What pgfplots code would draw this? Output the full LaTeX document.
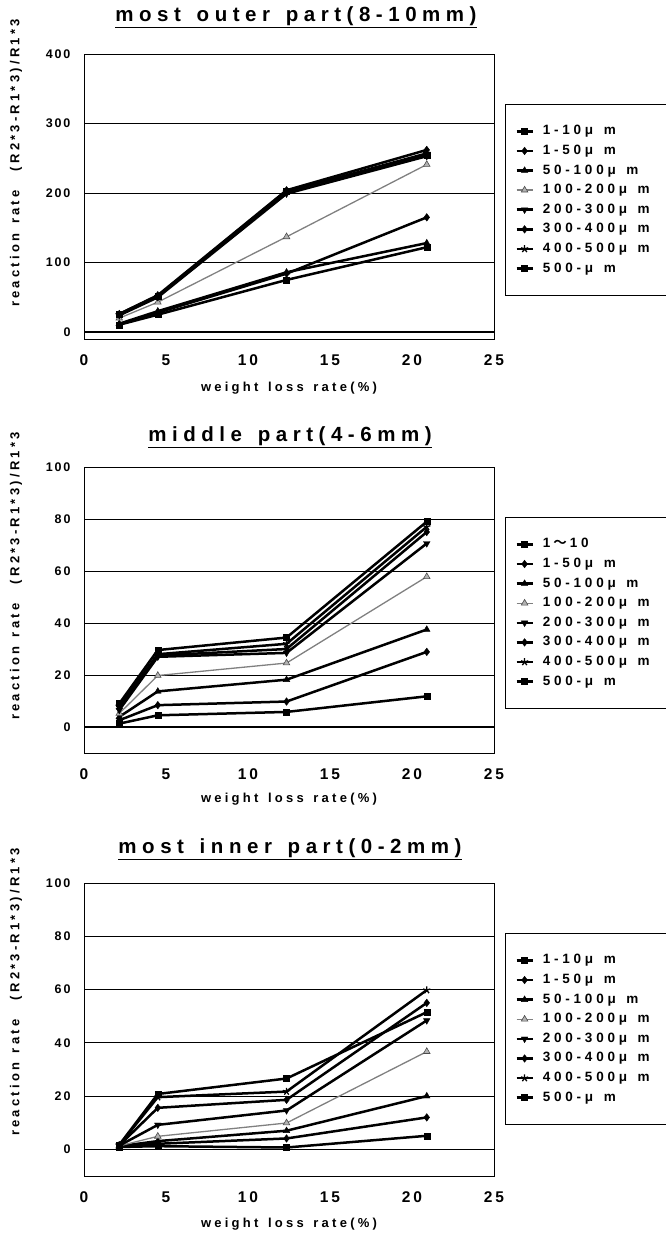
\documentclass[border=0pt]{standalone}
\usepackage{fontspec}
\setmainfont{Liberation Sans}
\newfontfamily\gf{Liberation Sans}[UprightFont=* Bold, WordSpace=1.4]
\newfontfamily\cjk{Noto Sans CJK JP}[UprightFont=* Bold]
\usepackage{pgfplots}
\pgfplotsset{compat=1.18}
\newcommand\FS[2]{\gf\fontsize{#1}{#1}\selectfont\addfontfeatures{LetterSpace=#2}}
\pgfplotsset{
  panel/.style={
    scale only axis, width=410pt, anchor=north west,
    xmin=0, xmax=25, xtick={0,5,10,15,20,25},
    ymin=-10,
    ymajorgrids, major grid style={black, line width=0.7pt},
    axis line style={black, line width=0.7pt},
    major tick length=0pt,
    /pgf/number format/assume math mode=true,
    xticklabel style={font=\FS{15.5}{18}, yshift=-12pt},
    yticklabel style={font=\FS{12.5}{15}, xshift=-10pt},
    clip=false,
    legend cell align=left,
    legend image code/.code={\draw[mark repeat=2,mark phase=2,##1] plot coordinates {(0pt,0pt) (8pt,0pt) (16pt,0pt)};},
    legend style={anchor=north west, draw=black, line width=0.7pt,
      inner xsep=10pt, inner ysep=21pt, row sep=7.6pt,
      font=\FS{13.5}{28},
      nodes={inner sep=0pt, text height=9.5pt, text depth=2.5pt},
      /tikz/every odd column/.style={column sep=9pt}},
  },
  s1/.style={black, line width=2.5pt, mark=square*, mark size=3pt, mark options={solid, line width=0.4pt}},
  s2/.style={black, line width=2.5pt, mark=diamond*, mark size=3.8pt, mark options={solid, line width=0.4pt}},
  s3/.style={black, line width=2.5pt, mark=triangle*, mark size=3.8pt, mark options={solid, line width=0.4pt}},
  s4/.style={gray, line width=1.3pt, mark=triangle*, mark size=3.8pt, mark options={solid, line width=0.6pt, fill=gray!60, draw=black!70}},
  s5/.style={black, line width=2.5pt, mark=triangle*, mark size=3.8pt, mark options={solid, line width=0.4pt, rotate=180}},
  s6/.style={black, line width=2.5pt, mark=diamond*, mark size=3.8pt, mark options={solid, line width=0.4pt}},
  s7/.style={black, line width=2.5pt, mark=star, mark size=3.8pt, mark options={solid, line width=1.3pt}},
  s8/.style={black, line width=2.5pt, mark=square*, mark size=3pt, mark options={solid, line width=0.4pt}},
}
\newcommand\LE[1]{\makebox[125pt][l]{#1}}
\begin{document}
\begin{tikzpicture}
\path[use as bounding box] (0pt,0pt) rectangle (666pt,-1239pt);

% ---------- Panel 1 ----------
\node[font=\FS{20.5}{27}] at (296pt,-17pt) {\underline{most outer part(8-10mm)}};
\node[rotate=90, font=\FS{13}{25}] at (16pt,-163pt) {reaction rate\ \ (R2*3-R1*3)/R1*3};
\node[font=\FS{13}{25}] at (289pt,-388pt) {weight loss rate(\%)};
\begin{axis}[panel, at={(84pt,-54pt)}, height=285pt, ymax=400, ytick={0,100,200,300,400},
  legend style={at={(1.0268,0.8246)}}]
\addplot[s1] coordinates {(2.15,10.5) (4.5,25) (12.35,75) (20.9,122)};
\addlegendentry{\LE{1-10μ m}}
\addplot[s2] coordinates {(2.15,11) (4.5,28) (12.35,84) (20.9,165)};
\addlegendentry{\LE{1-50μ m}}
\addplot[s3] coordinates {(2.15,12) (4.5,30) (12.35,86) (20.9,128)};
\addlegendentry{\LE{50-100μ m}}
\addplot[s4] coordinates {(2.15,20) (4.5,43) (12.35,137) (20.9,241)};
\addlegendentry{\LE{100-200μ m}}
\addplot[s5] coordinates {(2.15,24) (4.5,50) (12.35,199) (20.9,253)};
\addlegendentry{\LE{200-300μ m}}
\addplot[s6] coordinates {(2.15,26) (4.5,53) (12.35,204) (20.9,262)};
\addlegendentry{\LE{300-400μ m}}
\addplot[s7] coordinates {(2.15,25) (4.5,51) (12.35,202) (20.9,257)};
\addlegendentry{\LE{400-500μ m}}
\addplot[s8] coordinates {(2.15,26) (4.5,52) (12.35,203) (20.9,254)};
\addlegendentry{\LE{500-μ m}}
\draw[black, line width=1.5pt] (axis cs:0,0) -- (axis cs:25,0);
\end{axis}

% ---------- Panel 2 ----------
\node[font=\FS{20.5}{27}] at (290pt,-437pt) {\underline{middle part(4-6mm)}};
\node[rotate=90, font=\FS{13}{25}] at (16pt,-576pt) {reaction rate\ \ (R2*3-R1*3)/R1*3};
\node[font=\FS{13}{25}] at (289pt,-799pt) {weight loss rate(\%)};
\begin{axis}[panel, at={(84pt,-467pt)}, height=286pt, ymax=100, ytick={0,20,40,60,80,100},
  legend style={at={(1.0268,0.825)}}]
\addplot[s1] coordinates {(2.15,1.3) (4.5,4.5) (12.35,5.8) (20.9,11.8)};
\addlegendentry{\LE{1\hspace{3pt}{\cjk ～}\hspace{3pt}10}}
\addplot[s2] coordinates {(2.15,2.6) (4.5,8.4) (12.35,9.8) (20.9,28.9)};
\addlegendentry{\LE{1-50μ m}}
\addplot[s3] coordinates {(2.15,3.9) (4.5,13.7) (12.35,18.2) (20.9,37.5)};
\addlegendentry{\LE{50-100μ m}}
\addplot[s4] coordinates {(2.15,5.2) (4.5,19.8) (12.35,24.6) (20.9,57.8)};
\addlegendentry{\LE{100-200μ m}}
\addplot[s5] coordinates {(2.15,6.5) (4.5,27) (12.35,28.5) (20.9,70.6)};
\addlegendentry{\LE{200-300μ m}}
\addplot[s6] coordinates {(2.15,7.2) (4.5,27.5) (12.35,30) (20.9,75)};
\addlegendentry{\LE{300-400μ m}}
\addplot[s7] coordinates {(2.15,8) (4.5,28) (12.35,32) (20.9,77)};
\addlegendentry{\LE{400-500μ m}}
\addplot[s8] coordinates {(2.15,9) (4.5,29.6) (12.35,34.4) (20.9,79)};
\addlegendentry{\LE{500-μ m}}
\draw[black, line width=1.5pt] (axis cs:0,0) -- (axis cs:25,0);
\end{axis}

% ---------- Panel 3 ----------
\node[font=\FS{20.5}{27}] at (290pt,-849pt) {\underline{most inner part(0-2mm)}};
\node[rotate=90, font=\FS{13}{25}] at (16pt,-992pt) {reaction rate\ \ (R2*3-R1*3)/R1*3};
\node[font=\FS{13}{25}] at (289pt,-1224pt) {weight loss rate(\%)};
\begin{axis}[panel, at={(84pt,-883pt)}, height=293pt, ymax=100, ytick={0,20,40,60,80,100},
  legend style={at={(1.0268,0.829)}}]
\addplot[s1] coordinates {(2.15,0.9) (4.5,1.2) (12.35,0.7) (20.9,5.1)};
\addlegendentry{\LE{1-10μ m}}
\addplot[s2] coordinates {(2.15,1.1) (4.5,2.1) (12.35,4.1) (20.9,12)};
\addlegendentry{\LE{1-50μ m}}
\addplot[s3] coordinates {(2.15,1.2) (4.5,3.1) (12.35,7) (20.9,20)};
\addlegendentry{\LE{50-100μ m}}
\addplot[s4] coordinates {(2.15,1.3) (4.5,4.9) (12.35,9.9) (20.9,36.7)};
\addlegendentry{\LE{100-200μ m}}
\addplot[s5] coordinates {(2.15,1.4) (4.5,9.2) (12.35,14.6) (20.9,48.4)};
\addlegendentry{\LE{200-300μ m}}
\addplot[s6] coordinates {(2.15,1.5) (4.5,15.6) (12.35,18.6) (20.9,55)};
\addlegendentry{\LE{300-400μ m}}
\addplot[s7] coordinates {(2.15,1.6) (4.5,19.6) (12.35,21.7) (20.9,59.8)};
\addlegendentry{\LE{400-500μ m}}
\addplot[s8] coordinates {(2.15,1.7) (4.5,20.8) (12.35,26.6) (20.9,51.5)};
\addlegendentry{\LE{500-μ m}}
\draw[black, line width=1.5pt] (axis cs:0,0) -- (axis cs:25,0);
\end{axis}
\end{tikzpicture}
\end{document}
